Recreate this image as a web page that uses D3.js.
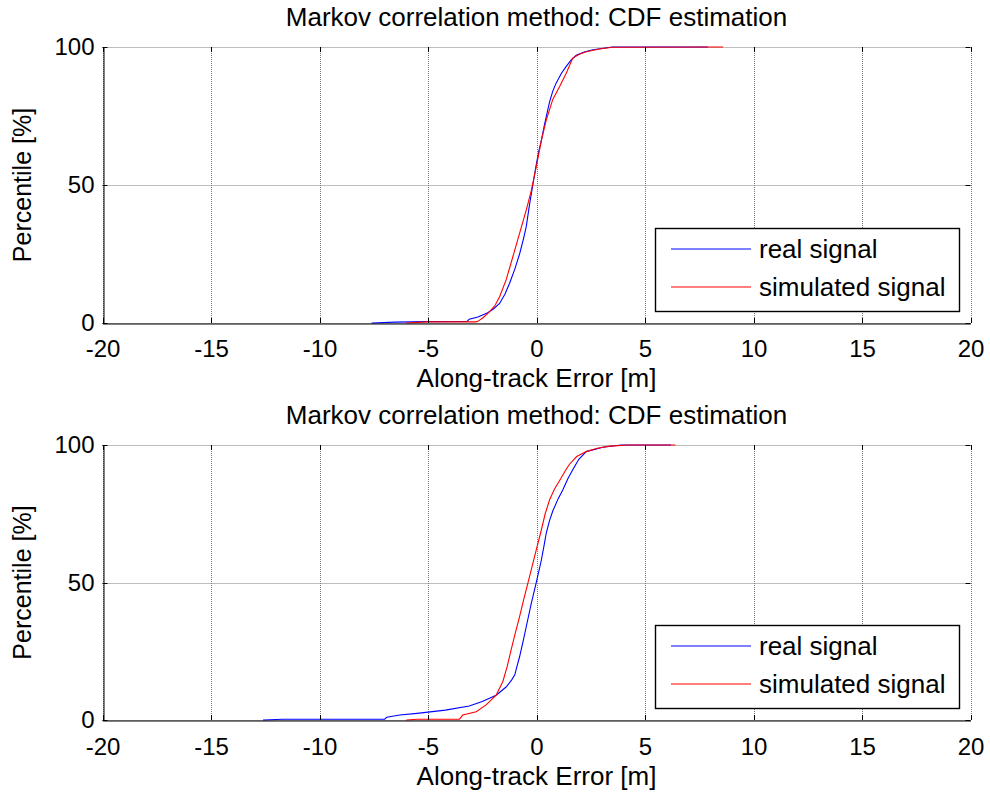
<!DOCTYPE html>
<html>
<head>
<meta charset="utf-8">
<script src="https://cdn.jsdelivr.net/npm/d3@7"></script>
<style>
  body { margin: 0; background: #fff; }
  svg { display: block; font-family: "Liberation Sans", Arial, sans-serif; }
</style>
</head>
<body>
<svg id="chart" width="990" height="796"></svg>
<script>
// ---- data ----
const title = "Markov correlation method: CDF estimation";
const xLabel = "Along-track Error [m]";
const yLabel = "Percentile [%]";
const xTicks = [-20, -15, -10, -5, 0, 5, 10, 15, 20];
const yTicks = [0, 50, 100];
const seriesNames = ["real signal", "simulated signal"];
const seriesColors = ["#0000ff", "#ff0000"];

// top panel: [error (m), percentile (%)]
const topReal = [[-7.6,0],[-6.5,0.3],[-5,0.5],[-3.2,0.6],[-3.1,1.4],[-2.7,2.2],[-2.3,3.5],[-2.0,5],[-1.7,7.1],[-1.45,10.5],[-1.24,14.4],[-1.0,19.5],[-0.78,25],[-0.6,30.5],[-0.47,35],[-0.32,43],[-0.17,50],[-0.02,57],[0.1,62],[0.22,66],[0.37,72],[0.6,80],[0.75,84],[0.91,87],[1.15,90.5],[1.37,93],[1.6,95.3],[1.83,97],[2.2,98.2],[2.6,99],[3.5,100],[7.9,100]];
const topSim = [[-6.0,0],[-5,0.4],[-2.8,0.4],[-2.7,0.6],[-2.45,2],[-2.17,4],[-1.9,6.5],[-1.7,9.5],[-1.4,15.6],[-1.09,24],[-0.78,32.5],[-0.47,41],[-0.24,48],[0,57],[0.22,66],[0.45,73.5],[0.75,81],[1.06,85.6],[1.37,90.5],[1.67,96],[2.0,97.5],[2.3,98.3],[2.9,99.3],[3.5,99.9],[8.6,100]];
// bottom panel
const botReal = [[-12.6,0],[-11.7,0.3],[-7,0.3],[-6.9,1],[-6.3,1.8],[-5.5,2.4],[-4.2,3.6],[-3.1,5.1],[-2.5,6.7],[-1.86,9],[-1.4,12],[-1.15,14.5],[-1.0,16.4],[-0.9,19.5],[-0.78,23],[-0.62,28.5],[-0.47,34],[-0.24,42.4],[-0.02,49.7],[0.22,58],[0.35,63.5],[0.45,68],[0.6,72.5],[0.75,76],[1.0,80.5],[1.21,83.6],[1.45,87.8],[1.67,91],[1.95,94.8],[2.29,97.6],[3.06,99.2],[3.9,100],[6.2,100]];
const botSim = [[-6.0,0],[-5.5,0.3],[-3.55,0.3],[-3.4,1.8],[-2.78,3],[-2.32,5.5],[-1.86,9],[-1.55,14],[-1.35,19.5],[-1.17,25.5],[-0.98,31.5],[-0.78,37.6],[-0.6,43.5],[-0.4,49.7],[-0.09,59.4],[0.22,69],[0.4,75],[0.6,80],[0.82,83.8],[1.06,87],[1.3,90.3],[1.52,93],[1.85,95.8],[2.29,97.6],[2.8,98.8],[3.36,99.6],[4.3,100],[6.4,100]];

const panels = [
  { top: 47, bottom: 323, series: [topReal, topSim], titleY: 17, tickY: 348, labelY: 378 },
  { top: 445, bottom: 720, series: [botReal, botSim], titleY: 415, tickY: 746, labelY: 776 }
];

const L = 102.5, R = 970.5;
const FONT = "'Liberation Sans', Arial, sans-serif";
const svg = d3.select("#chart");

panels.forEach((p, pi) => {
  const x = d3.scaleLinear().domain([-20, 20]).range([L, R]);
  const y = d3.scaleLinear().domain([0, 100]).range([p.bottom, p.top]);
  const g = svg.append("g").attr("class", "panel" + pi);

  // grid
  g.append("g").selectAll("line").data(xTicks).join("line")
    .attr("x1", d => Math.round(x(d)) + 0.5).attr("x2", d => Math.round(x(d)) + 0.5)
    .attr("y1", p.top).attr("y2", p.bottom)
    .attr("stroke", "#7a7a7a").attr("stroke-width", 1).attr("stroke-dasharray", "1,1");
  g.append("g").selectAll("line").data(yTicks).join("line")
    .attr("x1", L).attr("x2", R)
    .attr("y1", d => Math.round(y(d)) + 0.5).attr("y2", d => Math.round(y(d)) + 0.5)
    .attr("stroke", "#7a7a7a").attr("stroke-width", 1).attr("stroke-dasharray", "1,1");

  // curves
  const line = d3.line().x(d => x(d[0])).y(d => y(d[1]));
  p.series.forEach((s, i) => {
    g.append("path").datum(s).attr("d", line)
      .attr("fill", "none").style("stroke", seriesColors[i]).attr("stroke-width", 1.1);
  });

  // axes (left & bottom solid)
  const xAxis = d3.axisBottom(x).tickValues(xTicks).tickSize(0).tickPadding(0).tickFormat(d => String(d));
  const ax = g.append("g").attr("transform", `translate(0,${Math.round(p.bottom) + 0.5})`).call(xAxis);
  ax.select(".domain").attr("stroke", "#000");
  ax.selectAll("text").attr("y", p.tickY - p.bottom).attr("dy", "0.35em")
    .attr("font-size", 24).attr("fill", "#000").style("font-family", FONT);

  const yAxis = d3.axisLeft(y).tickValues(yTicks).tickSize(0).tickPadding(9).tickFormat(d => String(d));
  const ay = g.append("g").attr("transform", `translate(${Math.round(L) + 0.5},0)`).call(yAxis);
  ay.select(".domain").attr("stroke", "#000");
  ay.selectAll("text").attr("font-size", 24).attr("fill", "#000").style("font-family", FONT);

  // inward tick marks on all four sides
  const tk = 5;
  xTicks.forEach(v => {
    const xx = Math.round(x(v)) + 0.5;
    g.append("line").attr("x1", xx).attr("x2", xx).attr("y1", p.bottom).attr("y2", p.bottom - tk).style("stroke", "#000");
    g.append("line").attr("x1", xx).attr("x2", xx).attr("y1", p.top).attr("y2", p.top + tk).style("stroke", "#000");
  });
  yTicks.forEach(v => {
    const yy = Math.round(y(v)) + 0.5;
    g.append("line").attr("x1", L).attr("x2", L + tk).attr("y1", yy).attr("y2", yy).style("stroke", "#000");
    g.append("line").attr("x1", R).attr("x2", R - tk).attr("y1", yy).attr("y2", yy).style("stroke", "#000");
  });

  // title & labels
  g.append("text").attr("x", (L + R) / 2).attr("y", p.titleY).attr("text-anchor", "middle")
    .attr("dy", "0.35em").attr("font-size", 26).style("font-family", FONT).text(title);
  g.append("text").attr("x", (L + R) / 2).attr("y", p.labelY).attr("text-anchor", "middle")
    .attr("dy", "0.35em").attr("font-size", 26).style("font-family", FONT).text(xLabel);
  g.append("text").attr("transform", `translate(22,${(p.top + p.bottom) / 2}) rotate(-90)`)
    .attr("text-anchor", "middle").attr("dy", "0.35em").attr("font-size", 25)
    .style("font-family", FONT).text(yLabel);

  // legend
  const lx = 655, lw = 304, lh = 83;
  const ly = p.bottom - 95;
  const lg = g.append("g").attr("class", "legend");
  lg.append("rect").attr("x", lx + 0.5).attr("y", ly + 0.5).attr("width", lw).attr("height", lh)
    .style("fill", "#fff").style("stroke", "#000").attr("stroke-width", 1.4);
  seriesNames.forEach((n, i) => {
    const yy = ly + 21 + i * 38;
    lg.append("path").attr("d", `M671,${yy}H751`)
      .style("fill", "none").style("stroke", seriesColors[i]).attr("stroke-width", 1.2);
    lg.append("text").attr("x", 759).attr("y", yy).attr("dy", "0.35em").attr("font-size", 26)
      .style("font-family", FONT).text(n);
  });
});
</script>
</body>
</html>
